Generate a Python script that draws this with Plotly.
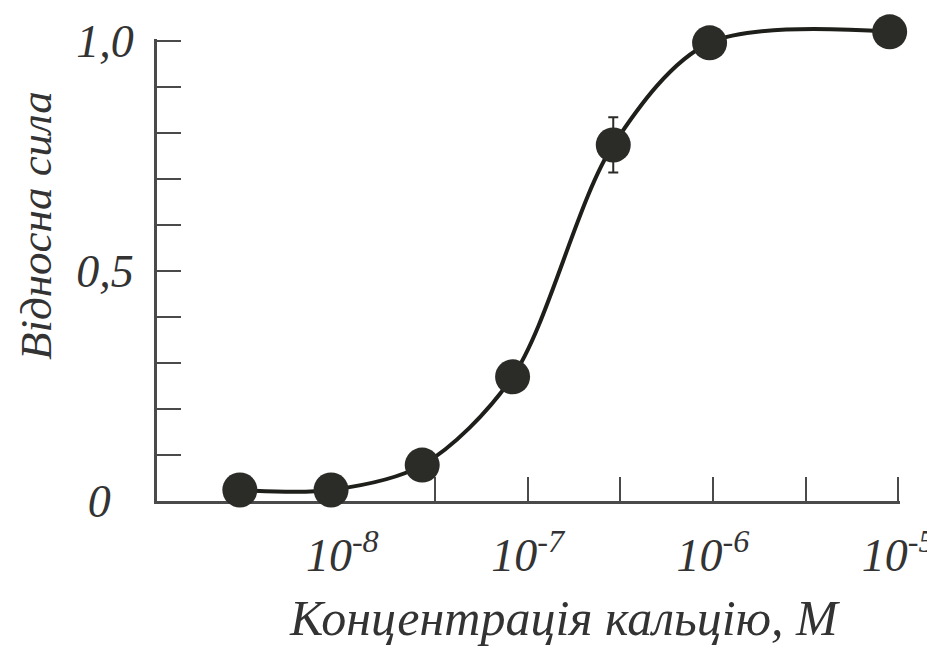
import plotly.graph_objects as go

# Data
conc = [2.8e-9, 8.7e-9, 2.7e-8, 8.3e-8, 2.9e-7, 9.6e-7, 9.0e-6]
force = [0.024, 0.024, 0.078, 0.27, 0.774, 0.996, 1.02]
err = [0, 0, 0, 0, 0.06, 0, 0]

x_tickvals = [10**-8.5, 1e-8, 10**-7.5, 1e-7, 10**-6.5, 1e-6, 10**-5.5, 1e-5]
x_ticktext = ["", "10<sup>-8</sup>", "", "10<sup>-7</sup>", "", "10<sup>-6</sup>", "", "10<sup>-5</sup>"]
y_tickvals = [0, 0.5, 1.0]
y_ticktext = ["0\u00a0\u00a0", "0,5", "1,0"]

x_title = "Концентрація кальцію, М"
y_title = "Відносна сила"

ink = "#2b2b27"
axis_col = "#4a4a4a"
text_col = "#333333"
font_fam = "Liberation Serif"

# page body has an 8px margin: compensate in the figure size/margins
W, H = 927, 655
ML, MR, MT, MB = 149, 35, 10, 162
plot_w = W - ML - MR
plot_h = H - MT - MB
y_top = 1.05
y_axis_top = 1.004
y_dom_top = y_axis_top / y_top

fig = go.Figure()
# empty trace so the visible y axis (subplot x/y) is drawn
fig.add_trace(go.Scatter(x=[None], y=[None], xaxis="x", yaxis="y",
                         mode="markers", showlegend=False, hoverinfo="skip"))
fig.add_trace(go.Scatter(
    x=conc, y=force,
    xaxis="x", yaxis="y2",
    mode="lines+markers",
    line=dict(color="#1e1e1a", width=4, shape="spline", smoothing=0.9),
    marker=dict(size=35, color=ink, line=dict(width=0)),
    error_y=dict(type="data", array=err, visible=True, color=ink, thickness=2, width=5),
    cliponaxis=False,
    showlegend=False,
))

fig.update_layout(
    width=W, height=H,
    margin=dict(l=ML, r=MR, t=MT, b=MB, autoexpand=False),
    paper_bgcolor="white", plot_bgcolor="rgba(0,0,0,0)",
    font=dict(family=font_fam, color=text_col),
    xaxis=dict(
        type="log", range=[-9, -4.99], anchor="y", automargin=False,
        showgrid=False, zeroline=False,
        showline=True, linecolor=axis_col, linewidth=3,
        ticks="inside", ticklen=24, tickwidth=2, tickcolor=axis_col,
        tickvals=x_tickvals, ticktext=x_ticktext,
        tickfont=dict(family=font_fam, size=46, style="italic", color=text_col),
        ticklabelstandoff=12,
    ),
    yaxis=dict(
        range=[0, y_axis_top], domain=[0, y_dom_top], anchor="x", automargin=False,
        showgrid=False, zeroline=False,
        showline=True, linecolor=axis_col, linewidth=3,
        ticks="inside", ticklen=24, tickwidth=2, tickcolor=axis_col,
        tickvals=y_tickvals, ticktext=y_ticktext,
        minor=dict(dtick=0.1, ticks="inside", ticklen=24, tickwidth=2, tickcolor=axis_col, showgrid=False),
        tickfont=dict(family=font_fam, size=46, style="italic", color=text_col),
        ticklabelstandoff=11,
    ),
    yaxis2=dict(
        range=[0, y_top], domain=[0, 1], anchor="x", automargin=False,
        visible=False, showgrid=False, zeroline=False,
    ),
)

# y-axis title (placed above the axis centre, as in the reference)
fig.add_annotation(
    text=y_title, textangle=-90,
    xref="paper", yref="paper",
    x=(28 - ML) / plot_w, y=(H - MB - 217) / plot_h,
    xanchor="center", yanchor="middle", showarrow=False,
    font=dict(family=font_fam, size=45, style="italic", color=text_col),
)
# x-axis title (right of the axis centre, as in the reference)
fig.add_annotation(
    text=x_title,
    xref="paper", yref="paper",
    x=(556 - ML) / plot_w, y=(H - MB - 610) / plot_h,
    xanchor="center", yanchor="middle", showarrow=False,
    font=dict(family=font_fam, size=50, style="italic", color=text_col),
)

fig.write_html("out.html")
